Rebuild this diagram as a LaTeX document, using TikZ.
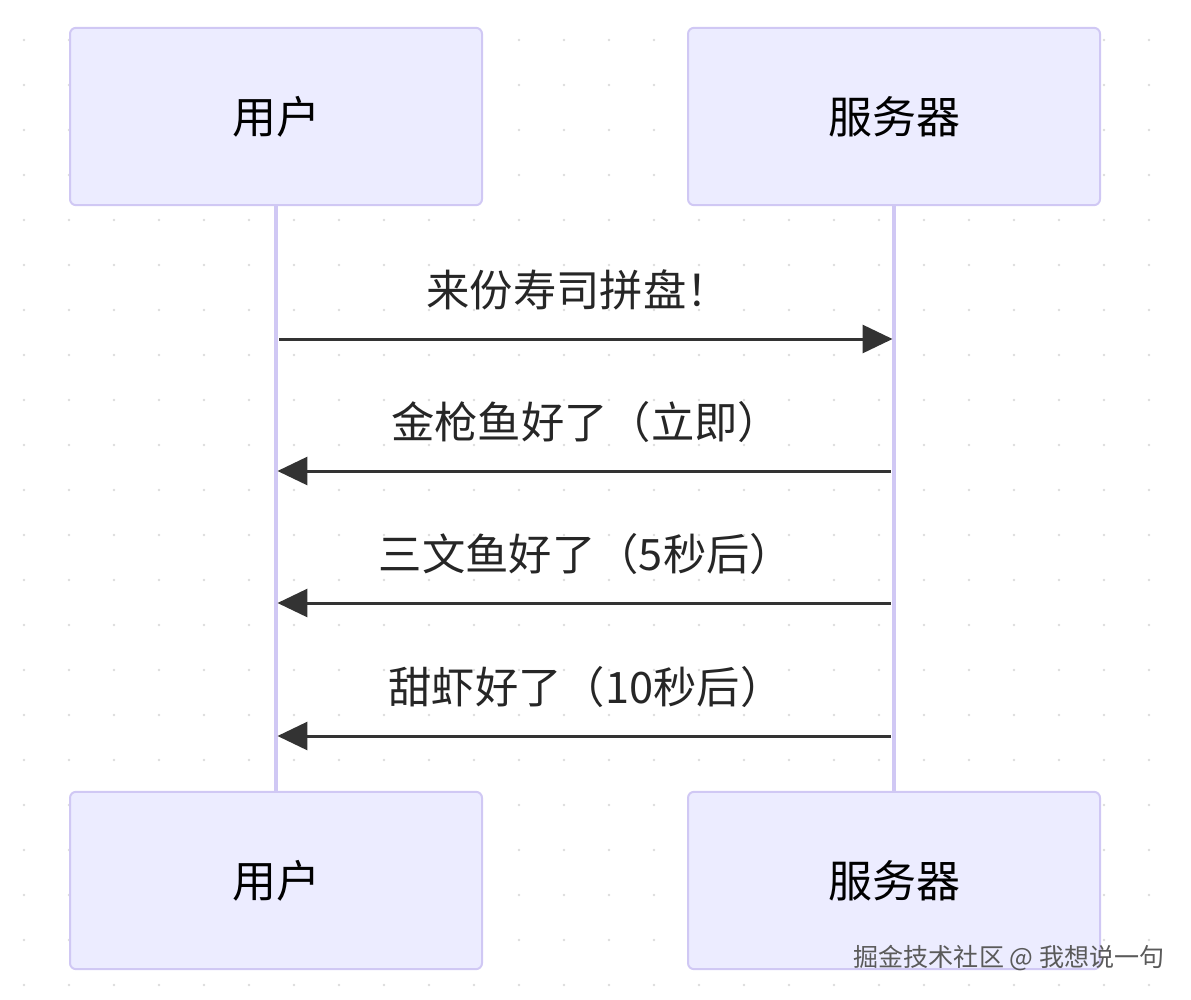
\documentclass[tikz,border=0pt]{standalone}
\usepackage{fontspec}
\newfontfamily\cjk{Noto Sans CJK SC}
\usetikzlibrary{arrows.meta, positioning}
\definecolor{actorfill}{HTML}{ECECFF}
\definecolor{actorline}{HTML}{D0C8F4}
\definecolor{msgline}{HTML}{333333}
\definecolor{griddot}{HTML}{DCDCDC}
\definecolor{markgray}{HTML}{5A5A5A}

\begin{document}
\begin{tikzpicture}[x=0.75pt, y=-0.75pt,
    actor/.style={rectangle, rounded corners=4.5pt, draw=actorline, fill=actorfill, line width=1.5pt,
        minimum width=309pt, minimum height=133pt, font=\cjk\fontsize{33}{38}\selectfont},
    lifeline/.style={actorline, line width=2.4pt},
    msgtext/.style={font=\cjk\fontsize{32.5}{38}\selectfont, text=black!85},
    msgarrow/.style={msgline, line width=2.25pt, -{Triangle[length=22.5pt, width=21pt]},
        shorten >=1.1pt, shorten <=2.5pt}]
                \useasboundingbox (0,0) rectangle (1191,999);

                % Dotted background
                \foreach \i in {0,...,25} {
                    \foreach \j in {0,...,21} {
                        \fill[griddot] (24+45*\i, 40+45*\j) circle (1.1pt);
                    }
                }

                % Actors
                \node[actor] (utop) at (276,116.5) {用户};
                \node[actor] (stop) at (894,116.5) {服务器};
                \node[actor] (ubot) at (276,880.5) {用户};
                \node[actor] (sbot) at (894,880.5) {服务器};

                % Lifelines
                \draw[lifeline] (utop.south) -- (ubot.north);
                \draw[lifeline] (stop.south) -- (sbot.north);

                % Order
                \coordinate (u1) at (276,339);
                \coordinate (s1) at (894,339);
                \node[msgtext] (m1) at (578,290) {来份寿司拼盘！};
                \draw[msgarrow] (u1) -- (s1);

                % Replies
                \foreach \n/\y/\txt in {2/471/金枪鱼好了（立即）, 3/603/三文鱼好了（5秒后）, 4/736/甜虾好了（10秒后）} {
                    \coordinate (u\n) at (276,\y);
                    \coordinate (s\n) at (894,\y);
                    \node[msgtext] (m\n) at (586,\y-49) {\txt};
                    \draw[msgarrow] (s\n) -- (u\n);
                }

                % Watermark
                \node[font=\cjk\fontsize{18.8}{21}\selectfont, text=markgray] (mark) at (1009,958) {掘金技术社区 @ 我想说一句};
            \end{tikzpicture}
\end{document}
